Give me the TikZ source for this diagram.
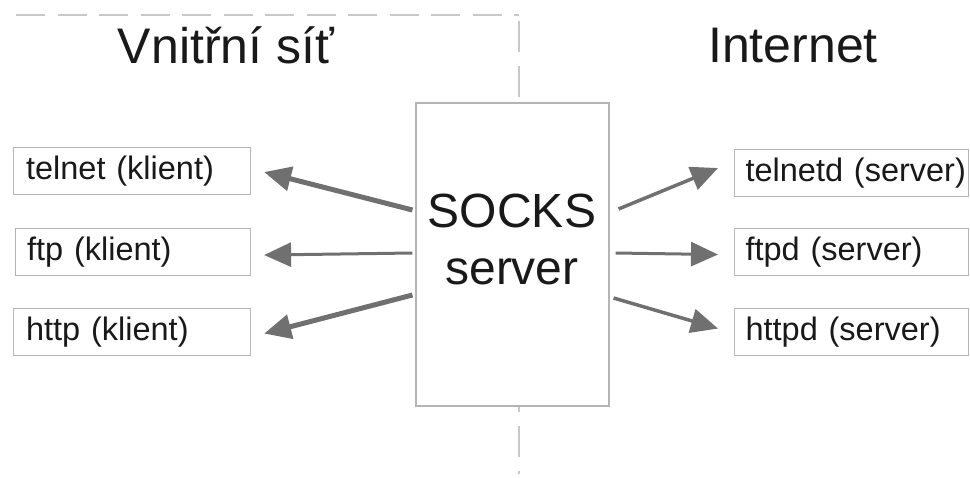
\documentclass[tikz,border=0pt]{standalone}
\usepackage{fontspec}
\setmainfont{Liberation Sans}
\usetikzlibrary{arrows.meta}
\definecolor{frame}{HTML}{B4B4B4}
\definecolor{dash}{HTML}{C8C8C8}
\definecolor{arrowgray}{HTML}{707070}
\tikzset{
  itembox/.style={draw=frame, line width=1.1pt, fill=white, anchor=north west,
    minimum height=47pt, text width=212pt, inner xsep=11pt, inner ysep=0pt,
    align=left, font=\fontsize{32.5}{36}\selectfont, text=black!90},
  sep/.style={draw=dash, line width=1.4pt, dash pattern=on 29pt off 12.5pt},
  vsep/.style={draw=dash, line width=1.4pt, dash pattern=on 31pt off 14pt},
  arr/.style={draw=arrowgray, -{Triangle[length=27pt,width=24pt]}},
  title/.style={anchor=base, font=\fontsize{50}{56}\selectfont, text=black!90},
  big/.style={anchor=base, font=\fontsize{48}{54}\selectfont, text=black!90}
}
\begin{document}
\begin{tikzpicture}[x=1pt,y=-1pt]
\useasboundingbox (0,0) rectangle (970,477);
% separators
\draw[sep] (16,15) -- (519,15);
\draw[vsep] (519,21) -- (519,474);
% titles
\node[title] (vnitrni) at (226,63) {Vnitřní síť};
\node[title] (internet) at (793,62) {Internet};
% SOCKS server box
\node[draw=frame, line width=1.1pt, fill=white, minimum width=193pt, minimum height=303pt, inner sep=0pt] (socks) at (512.5,254.5) {};
\node[big] (socksa) at (512,227) {SOCKS};
\node[big] (socksb) at (512,284) {server};
% client boxes
\node[itembox, minimum width=237pt] (telnet) at (13,147) {\mbox{telnet (klient)}};
\node[itembox, minimum width=235pt] (ftp) at (15,228) {\mbox{ftp (klient)}};
\node[itembox, minimum width=237pt] (http) at (13,308) {\mbox{http (klient)}};
% server boxes
\node[itembox, minimum width=234pt] (telnetd) at (734,149) {\mbox{telnetd (server)}};
\node[itembox, minimum width=234pt] (ftpd) at (734,228) {\mbox{ftpd (server)}};
\node[itembox, minimum width=234pt] (httpd) at (734,308) {\mbox{httpd (server)}};
% arrows left
\draw[arr, line width=5pt] ([xshift=-3pt,yshift=44.5pt]socks.west) -- ([xshift=13pt,yshift=-1pt]telnet.east);
\draw[arr, line width=3pt] ([xshift=-3pt,yshift=1.5pt]socks.west) -- ([xshift=13pt,yshift=-3pt]ftp.east);
\draw[arr, line width=5pt] ([xshift=-3pt,yshift=-40.5pt]socks.west) -- ([xshift=13pt,yshift=-1.5pt]http.east);
% arrows right
\draw[arr, line width=3.5pt] ([xshift=9pt,yshift=45.5pt]socks.east) -- ([xshift=-16pt,yshift=5pt]telnetd.west);
\draw[arr, line width=3pt] ([xshift=6pt,yshift=1.5pt]socks.east) -- ([xshift=-16pt,yshift=-2.5pt]ftpd.west);
\draw[arr, line width=3.5pt] ([xshift=4pt,yshift=-43.5pt]socks.east) -- ([xshift=-16pt,yshift=3.5pt]httpd.west);
\end{tikzpicture}
\end{document}
